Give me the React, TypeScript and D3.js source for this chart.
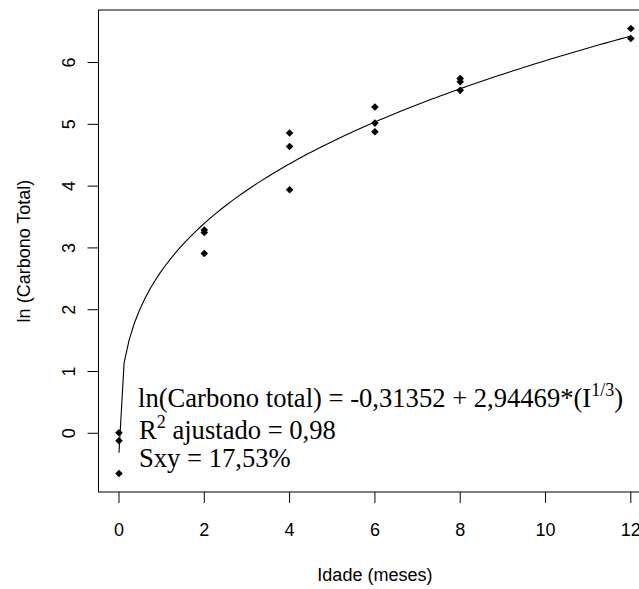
import React from "react";
import * as d3 from "d3";

// Observed data (Idade em meses, ln(Carbono total))
const ageMonths = [0, 0, 0, 2, 2, 2, 4, 4, 4, 6, 6, 6, 8, 8, 8, 12, 12];
const lnCarbon = [0.01, -0.12, -0.65, 3.29, 3.25, 2.91, 4.86, 4.64, 3.94, 5.28, 5.02, 4.88, 5.74, 5.69, 5.55, 6.55, 6.39];

const xTicks = [0, 2, 4, 6, 8, 10, 12];
const yTicks = [0, 1, 2, 3, 4, 5, 6];

// Fitted model shown on the chart
const intercept = -0.31352;
const slope = 2.94469;
const curveFrom = 0;
const curveTo = 12;
const curveN = 101;

const W = 639;
const H = 589;

export default function App() {
  const x = d3.scaleLinear().domain([-0.48, 12.48]).range([98.5, 651.3]);
  const y = d3.scaleLinear().domain([-0.95, 6.85]).range([492, 10]);

  const curvePts: [number, number][] = d3
    .range(curveN)
    .map((i) => curveFrom + ((curveTo - curveFrom) * i) / (curveN - 1))
    .map((v) => [v, intercept + slope * Math.cbrt(v)]);

  const line = d3
    .line<[number, number]>()
    .x((d) => x(d[0]))
    .y((d) => y(d[1]));

  const diamond = (cx: number, cy: number, r: number) =>
    `M${cx},${cy - r}L${cx + r},${cy}L${cx},${cy + r}L${cx - r},${cy}Z`;

  const sans = "'Liberation Sans', Arial, Helvetica, sans-serif";
  const serif = "'Liberation Serif', 'Times New Roman', Times, serif";
  const axisFs = 18;
  const x0 = x.range()[0];
  const x1 = x.range()[1];
  const y0 = y.range()[0];
  const y1 = y.range()[1];

  return (
    <svg
      width={W}
      height={H}
      style={{ position: "absolute", left: 0, top: 0, background: "#fff" }}
    >
      <rect x={0} y={0} width={W} height={H} fill="#fff" />
      {/* box */}
      <rect
        x={x0}
        y={y1}
        width={x1 - x0}
        height={y0 - y1}
        fill="none"
        stroke="#000"
        strokeWidth={1}
      />
      {/* x axis ticks */}
      {xTicks.map((t) => (
        <g key={"xt" + t}>
          <line x1={x(t)} x2={x(t)} y1={y0} y2={y0 + 11} stroke="#000" strokeWidth={1} />
          <text
            x={x(t)}
            y={536}
            textAnchor="middle"
            fontFamily={sans}
            fontSize={axisFs}
            fill="#000"
          >
            {t}
          </text>
        </g>
      ))}
      {/* y axis ticks */}
      {yTicks.map((t) => (
        <g key={"yt" + t}>
          <line x1={x0 - 11} x2={x0} y1={y(t)} y2={y(t)} stroke="#000" strokeWidth={1} />
          <text
            transform={`translate(75,${y(t)}) rotate(-90)`}
            textAnchor="middle"
            fontFamily={sans}
            fontSize={axisFs}
            fill="#000"
          >
            {t}
          </text>
        </g>
      ))}
      {/* axis titles */}
      <text
        x={(x0 + x1) / 2}
        y={581}
        textAnchor="middle"
        fontFamily={sans}
        fontSize={axisFs}
        fill="#000"
      >
        Idade (meses)
      </text>
      <text
        transform={`translate(30,${(y0 + y1) / 2}) rotate(-90)`}
        textAnchor="middle"
        fontFamily={sans}
        fontSize={axisFs}
        fill="#000"
      >
        ln (Carbono Total)
      </text>

      {/* fitted curve */}
      <path d={line(curvePts) || ""} fill="none" stroke="#000" strokeWidth={1.1} />

      {/* points */}
      {ageMonths.map((a, i) => (
        <path key={"p" + i} d={diamond(x(a), y(lnCarbon[i]), 3.8)} fill="#000" />
      ))}

      {/* equation text */}
      <g fontFamily={serif} fontSize={26.6} fill="#000">
        <text x={138} y={407}>
          ln(Carbono total) = -0,31352 + 2,94469*(I
          <tspan dy={-11} fontSize={18}>1/3</tspan>
          <tspan dy={11}>)</tspan>
        </text>
        <text x={139} y={439}>
          R
          <tspan dy={-11} fontSize={18}>2</tspan>
          <tspan dy={11}> ajustado = 0,98</tspan>
        </text>
        <text x={139} y={467}>
          Sxy = 17,53%
        </text>
      </g>
    </svg>
  );
}
